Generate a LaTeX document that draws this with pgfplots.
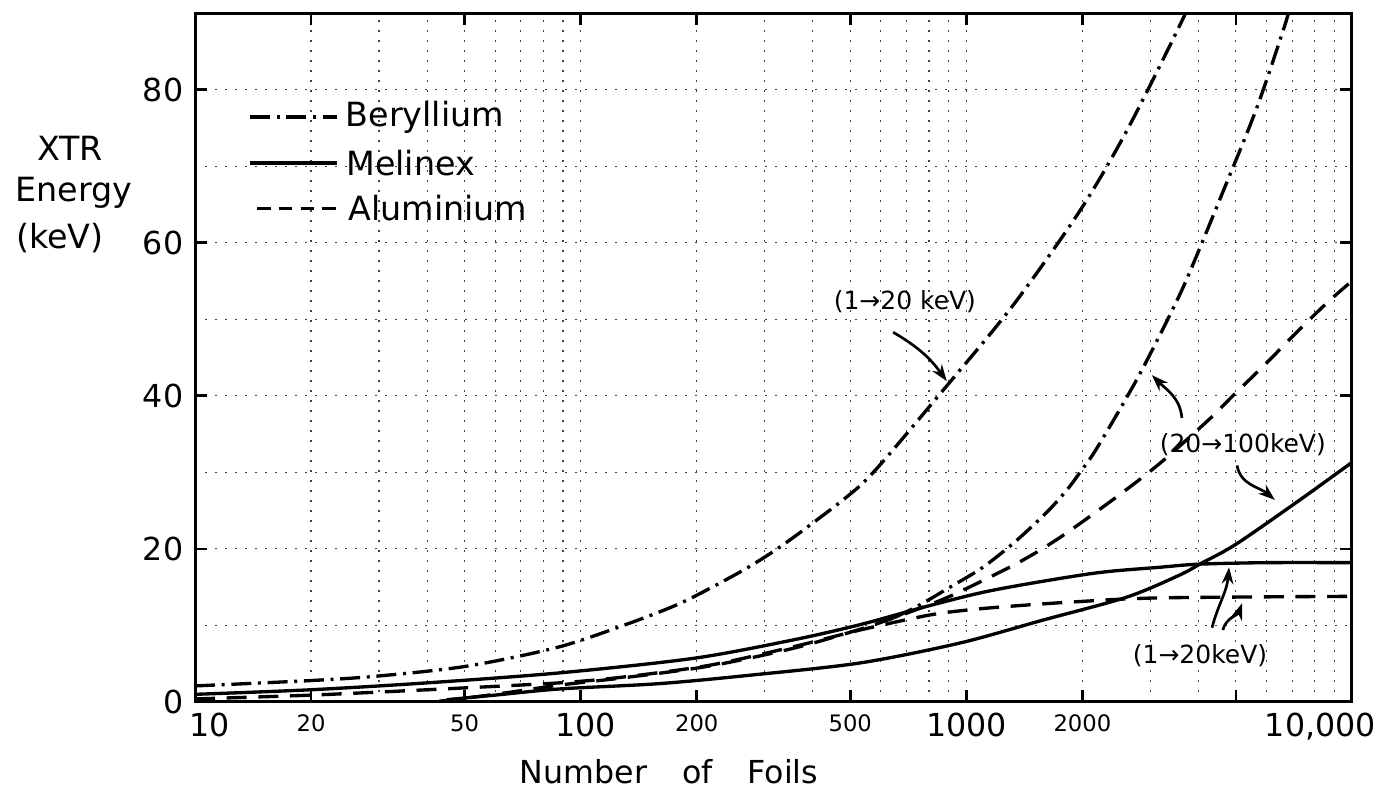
\documentclass[border=0pt]{standalone}
\usepackage{fontspec}
\setmainfont{DejaVu Sans}
\usepackage{pgfplots}
\pgfplotsset{compat=1.18}
\usetikzlibrary{arrows.meta}

\begin{document}
\begin{tikzpicture}
\useasboundingbox (-58.5pt,-26.7pt) rectangle (356.4pt,210.6pt);
\begin{axis}[
  scale only axis, width=347.1pt, height=206.7pt,
  at={(0pt,0pt)}, anchor=south west,
  xmode=log, xmin=10, xmax=10000, ymin=0, ymax=90,
  axis line style={line width=0.9pt},
  xtick={10,20,50,100,200,500,1000,2000,5000,10000},
  xticklabel style={anchor=base, yshift=-10.4pt},
  xticklabels={
    {\kern9pt\fontsize{9.5}{10}\selectfont 10},
    {\raisebox{1.4pt}{\fontsize{6.8}{7}\selectfont 20}},
    {\raisebox{1.4pt}{\fontsize{6.8}{7}\selectfont 50}},
    {\kern3pt\fontsize{9.5}{10}\selectfont 100},
    {\raisebox{1.4pt}{\fontsize{6.8}{7}\selectfont 200}},
    {\raisebox{1.4pt}{\fontsize{6.8}{7}\selectfont 500}},
    {\fontsize{9.5}{10}\selectfont 1000},
    {\raisebox{1.4pt}{\fontsize{6.8}{7}\selectfont 2000}},
    {},
    {\fontsize{9.5}{10}\selectfont 10,000\kern19pt\relax}},
  ytick={0,20,40,60,80},
  yticklabels={0,20,40,60,80},
  yticklabel style={font=\fontsize{9.5}{10}\selectfont},
  minor ytick={10,30,50,70},
  minor xtick={30,40,60,70,80,90,300,400,600,700,800,900,3000,4000,6000,7000,8000,9000},
  grid=both,
  major grid style={black!75, line width=0.35pt, dash pattern=on 0.6pt off 2.4pt},
  minor grid style={black!75, line width=0.35pt, dash pattern=on 0.6pt off 2.4pt},
  minor tick length=0pt,
  major tick length=3.6pt,
  tick style={black, line width=0.8pt},
  tick align=inside,
]
% Beryllium 1->20 keV
\addplot[black, line width=1pt, dash pattern=on 6pt off 2pt on 0.9pt off 2pt, smooth, tension=0.5] coordinates {
 (10,2.1) (20,2.8) (30,3.4) (51,4.7) (88,7.2) (134,10.3) (172,12.4) (201,14.0) (270,17.5) (343,20.9) (490,26.8) (586,30.5) (890,41.3) (1321,51.8) (1972,64.2) (2624,74.9) (3650,89.3) (3900,93)
};
% Beryllium 20->100 keV
\addplot[black, line width=1pt, dash pattern=on 6pt off 2pt on 0.9pt off 2pt, smooth, tension=0.5] coordinates {
 (650,11.0) (759,12.7) (900,14.9) (1097,17.5) (1336,20.9) (1618,24.8) (1823,27.7) (1972,30.0) (2183,33.2) (2786,42.4) (3491,52.1) (3873,57.2) (4624,66.6) (5663,77.6) (6697,88.4) (7000,92)
};
% Melinex 1->20 keV
\addplot[black, line width=1pt, smooth, tension=0.5] coordinates {
 (10,1.0) (20,1.6) (40,2.5) (88,3.8) (196,5.7) (355,8.1) (530,10.1) (791,12.5) (1172,14.6) (2128,16.8) (3177,17.6) (4000,18.0) (6000,18.2) (10000,18.2)
};
% Melinex 20->100 keV
\addplot[black, line width=1pt, smooth, tension=0.5] coordinates {
 (45,0.3) (60,0.9) (88,1.7) (160,2.4) (275,3.5) (530,5.1) (962,7.7) (1581,10.7) (2607,13.7) (3580,16.6) (4060,18.1) (5000,20.6) (7330,26.4) (10000,31.3)
};
% Aluminium 1->20 keV
\addplot[black, line width=1pt, dash pattern=on 6pt off 3.5pt, smooth, tension=0.5] coordinates {
 (10,0.4) (20,0.9) (40,1.6) (88,2.5) (131,3.3) (216,4.8) (355,7.2) (530,9.4) (791,11.3) (1000,12.0) (1297,12.5) (1935,13.1) (3177,13.6) (10000,13.8)
};
% Aluminium 20->100 keV
\addplot[black, line width=1pt, dash pattern=on 6pt off 3.5pt, smooth, tension=0.5] coordinates {
 (43,0.1) (60,1.0) (88,2.2) (131,3.2) (216,4.7) (355,7.0) (530,9.5) (700,11.6) (906,13.8) (1352,18.1) (1750,21.5) (2455,26.8) (3180,31.2) (4280,37.0) (4910,40.0) (6010,44.3) (6900,47.4) (7780,50.0) (8770,52.5) (10000,55)
};
% legend
\draw[black, line width=1pt, dash pattern=on 6pt off 2pt on 0.9pt off 2pt] (axis cs:13.9,76.4) -- (axis cs:23.3,76.4);
\node[anchor=west, inner sep=0pt, font=\fontsize{10}{12}\selectfont] at (axis cs:24.5,76.4) {Beryllium};
\draw[black, line width=1pt] (axis cs:13.9,70.4) -- (axis cs:23.3,70.4);
\node[anchor=west, inner sep=0pt, font=\fontsize{10}{12}\selectfont] at (axis cs:24.6,70.4) {Melinex};
\draw[black, line width=1pt, dash pattern=on 4pt off 2.5pt] (axis cs:14.5,64.5) -- (axis cs:23.3,64.5);
\node[anchor=west, inner sep=0pt, font=\fontsize{10}{12}\selectfont] at (axis cs:24.9,64.5) {Aluminium};
% annotations
\node[font=\fontsize{7.5}{9}\selectfont, inner sep=0pt] at (axis cs:693,52.3) {(1→20 keV)};
\draw[-{Stealth[length=5pt,width=3.5pt]}, line width=0.8pt] (axis cs:646,48.3) to[bend left=12] (axis cs:890,41.9);
\node[font=\fontsize{7.5}{9}\selectfont, inner sep=0pt] at (axis cs:5212,33.6) {(20→100keV)};
\draw[-{Stealth[length=5pt,width=3.5pt]}, line width=0.8pt] (axis cs:3622,37.1) to[out=95,in=-45] (axis cs:3027,42.7);
\draw[-{Stealth[length=5pt,width=3.5pt]}, line width=0.8pt] (axis cs:5035,30.9) to[out=-80,in=140] (axis cs:6310,26.4);
\node[font=\fontsize{7.5}{9}\selectfont, inner sep=0pt] at (axis cs:4036,6.1) {(1→20keV)};
\draw[-{Stealth[length=5pt,width=3.5pt]}, line width=0.8pt] (axis cs:4335,9.7) to[out=75,in=-95] (axis cs:4800,17.6);
\draw[-{Stealth[length=5pt,width=3.5pt]}, line width=0.8pt] (axis cs:4624,9.4) to[out=75,in=-110] (axis cs:5190,12.9);
\end{axis}
% y label
\node[font=\fontsize{10}{12}\selectfont] at (-37.5pt,166.2pt) {XTR};
\node[font=\fontsize{10}{12}\selectfont] at (-36.3pt,152.7pt) {Energy};
\node[font=\fontsize{10}{12}\selectfont] at (-40.5pt,139.2pt) {(keV)};
% x label
\node[font=\fontsize{9.5}{11}\selectfont] at (142.2pt,-21pt) {Number\hspace{10.5pt}of\hspace{10.5pt}Foils};
\end{tikzpicture}
\end{document}
